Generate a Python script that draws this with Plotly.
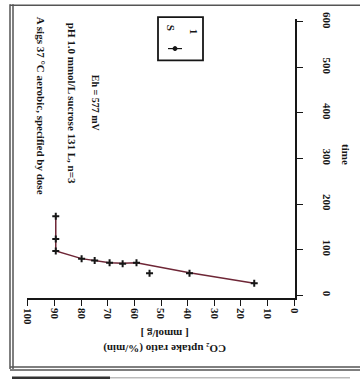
import plotly.graph_objects as go

# Measured points: uptake value (%) against elapsed time (min)
uptake = [15, 39.3, 54.3, 59.2, 64.4, 69.3, 74.9, 79.8, 89.5, 89.5, 89.5]
time_min = [26, 48, 48, 71, 69, 71, 76, 80, 97, 123, 173]

# Hand-drawn trend line through the measurements
trend_uptake = [15, 39.3, 59.2, 64.4, 69.3, 74.9, 79.8, 89.5, 89.5]
trend_time = [26, 49, 71, 70, 71, 76, 80, 97, 173]

value_ticks = [100, 90, 80, 70, 60, 50, 40, 30, 20, 10, 0]
time_ticks = [0, 100, 200, 300, 400, 500, 600]

W, H = 360, 381
L, R, T, B = 27, 65, 15, 83
PW, PH = W - L - R, H - T - B


def px(x):
    return (x - L) / PW


def py(y):
    return (H - B - y) / PH


serif = "Liberation Serif"
ink = "#161616"

fig = go.Figure()
fig.add_trace(go.Scatter(
    x=trend_uptake, y=trend_time, mode="lines",
    line=dict(color="#6e2636", width=1.5),
    showlegend=False, hoverinfo="skip",
))
fig.add_trace(go.Scatter(
    x=uptake, y=time_min, mode="markers",
    marker=dict(symbol="cross-thin", size=5, color=ink,
                line=dict(color=ink, width=2)),
    showlegend=False,
))

axis_common = dict(
    showline=True, linecolor=ink, linewidth=1.6, mirror=False,
    ticks="outside", ticklen=6, tickwidth=1.4, tickcolor=ink,
    showgrid=False, zeroline=False, tickangle=90,
    tickfont=dict(family=serif, size=11, color=ink, weight="bold"),
)

fig.update_layout(
    width=W, height=H,
    margin=dict(l=L, r=R, t=T, b=B),
    paper_bgcolor="white", plot_bgcolor="white",
    xaxis=dict(range=[100.3, -0.3], tickvals=value_ticks,
               ticktext=[str(v) for v in value_ticks], **axis_common),
    yaxis=dict(range=[-6.5, 606.5], side="right", tickvals=time_ticks,
               ticktext=[str(v) for v in time_ticks],
               ticklabelstandoff=16, **axis_common),
)


def note(x, y, text, angle, size=11):
    fig.add_annotation(xref="paper", yref="paper", x=px(x), y=py(y),
                       xanchor="center", yanchor="middle",
                       text=text, textangle=angle, showarrow=False,
                       font=dict(family=serif, size=size, color=ink,
                                 weight="bold"))


# Axis titles
note(165, 342, "CO₂ uptake ratio (%/min)<br>[ mmol/g ]", 180)
note(346, 152, "time", 90)

# Run conditions written along the left side
note(41, 103, "A sigs 37 °C aerobic, specified by dose", 90)
note(72, 100, "pH 1.0 mmol/L sucrose 131 L, n=3", 90)
note(95, 100, "Eh = 577 mV", 90, size=10)

# Legend box
fig.add_shape(type="rect", xref="paper", yref="paper",
              x0=px(158), x1=px(203), y0=py(57), y1=py(13),
              line=dict(color=ink, width=1.8), fillcolor="white")
note(171, 24, "S", 90)
note(194, 28, "1", 90)
fig.add_shape(type="line", xref="paper", yref="paper",
              x0=px(168), x1=px(182), y0=py(45), y1=py(45),
              line=dict(color=ink, width=1.2))
fig.add_shape(type="circle", xref="paper", yref="paper",
              x0=px(173), x1=px(177), y0=py(47), y1=py(43),
              line=dict(color=ink, width=1), fillcolor=ink)

# Page frame
frame = dict(color="#555555", width=1.5)
for fx in (10, 13):
    fig.add_shape(type="line", xref="paper", yref="paper",
                  x0=px(fx), x1=px(fx), y0=py(0), y1=py(370), line=frame)
for fy in (368, 371):
    fig.add_shape(type="line", xref="paper", yref="paper",
                  x0=px(10), x1=px(360), y0=py(fy), y1=py(fy), line=frame)
fig.add_shape(type="line", xref="paper", yref="paper",
              x0=px(10), x1=px(360), y0=py(1), y1=py(1), line=frame)
fig.add_shape(type="line", xref="paper", yref="paper",
              x0=px(12), x1=px(110), y0=py(379), y1=py(379),
              line=dict(color="#333333", width=2.5))
fig.add_shape(type="line", xref="paper", yref="paper",
              x0=px(110), x1=px(350), y0=py(379), y1=py(379),
              line=dict(color="#bbbbbb", width=1.5))

fig.write_html("out.html")
